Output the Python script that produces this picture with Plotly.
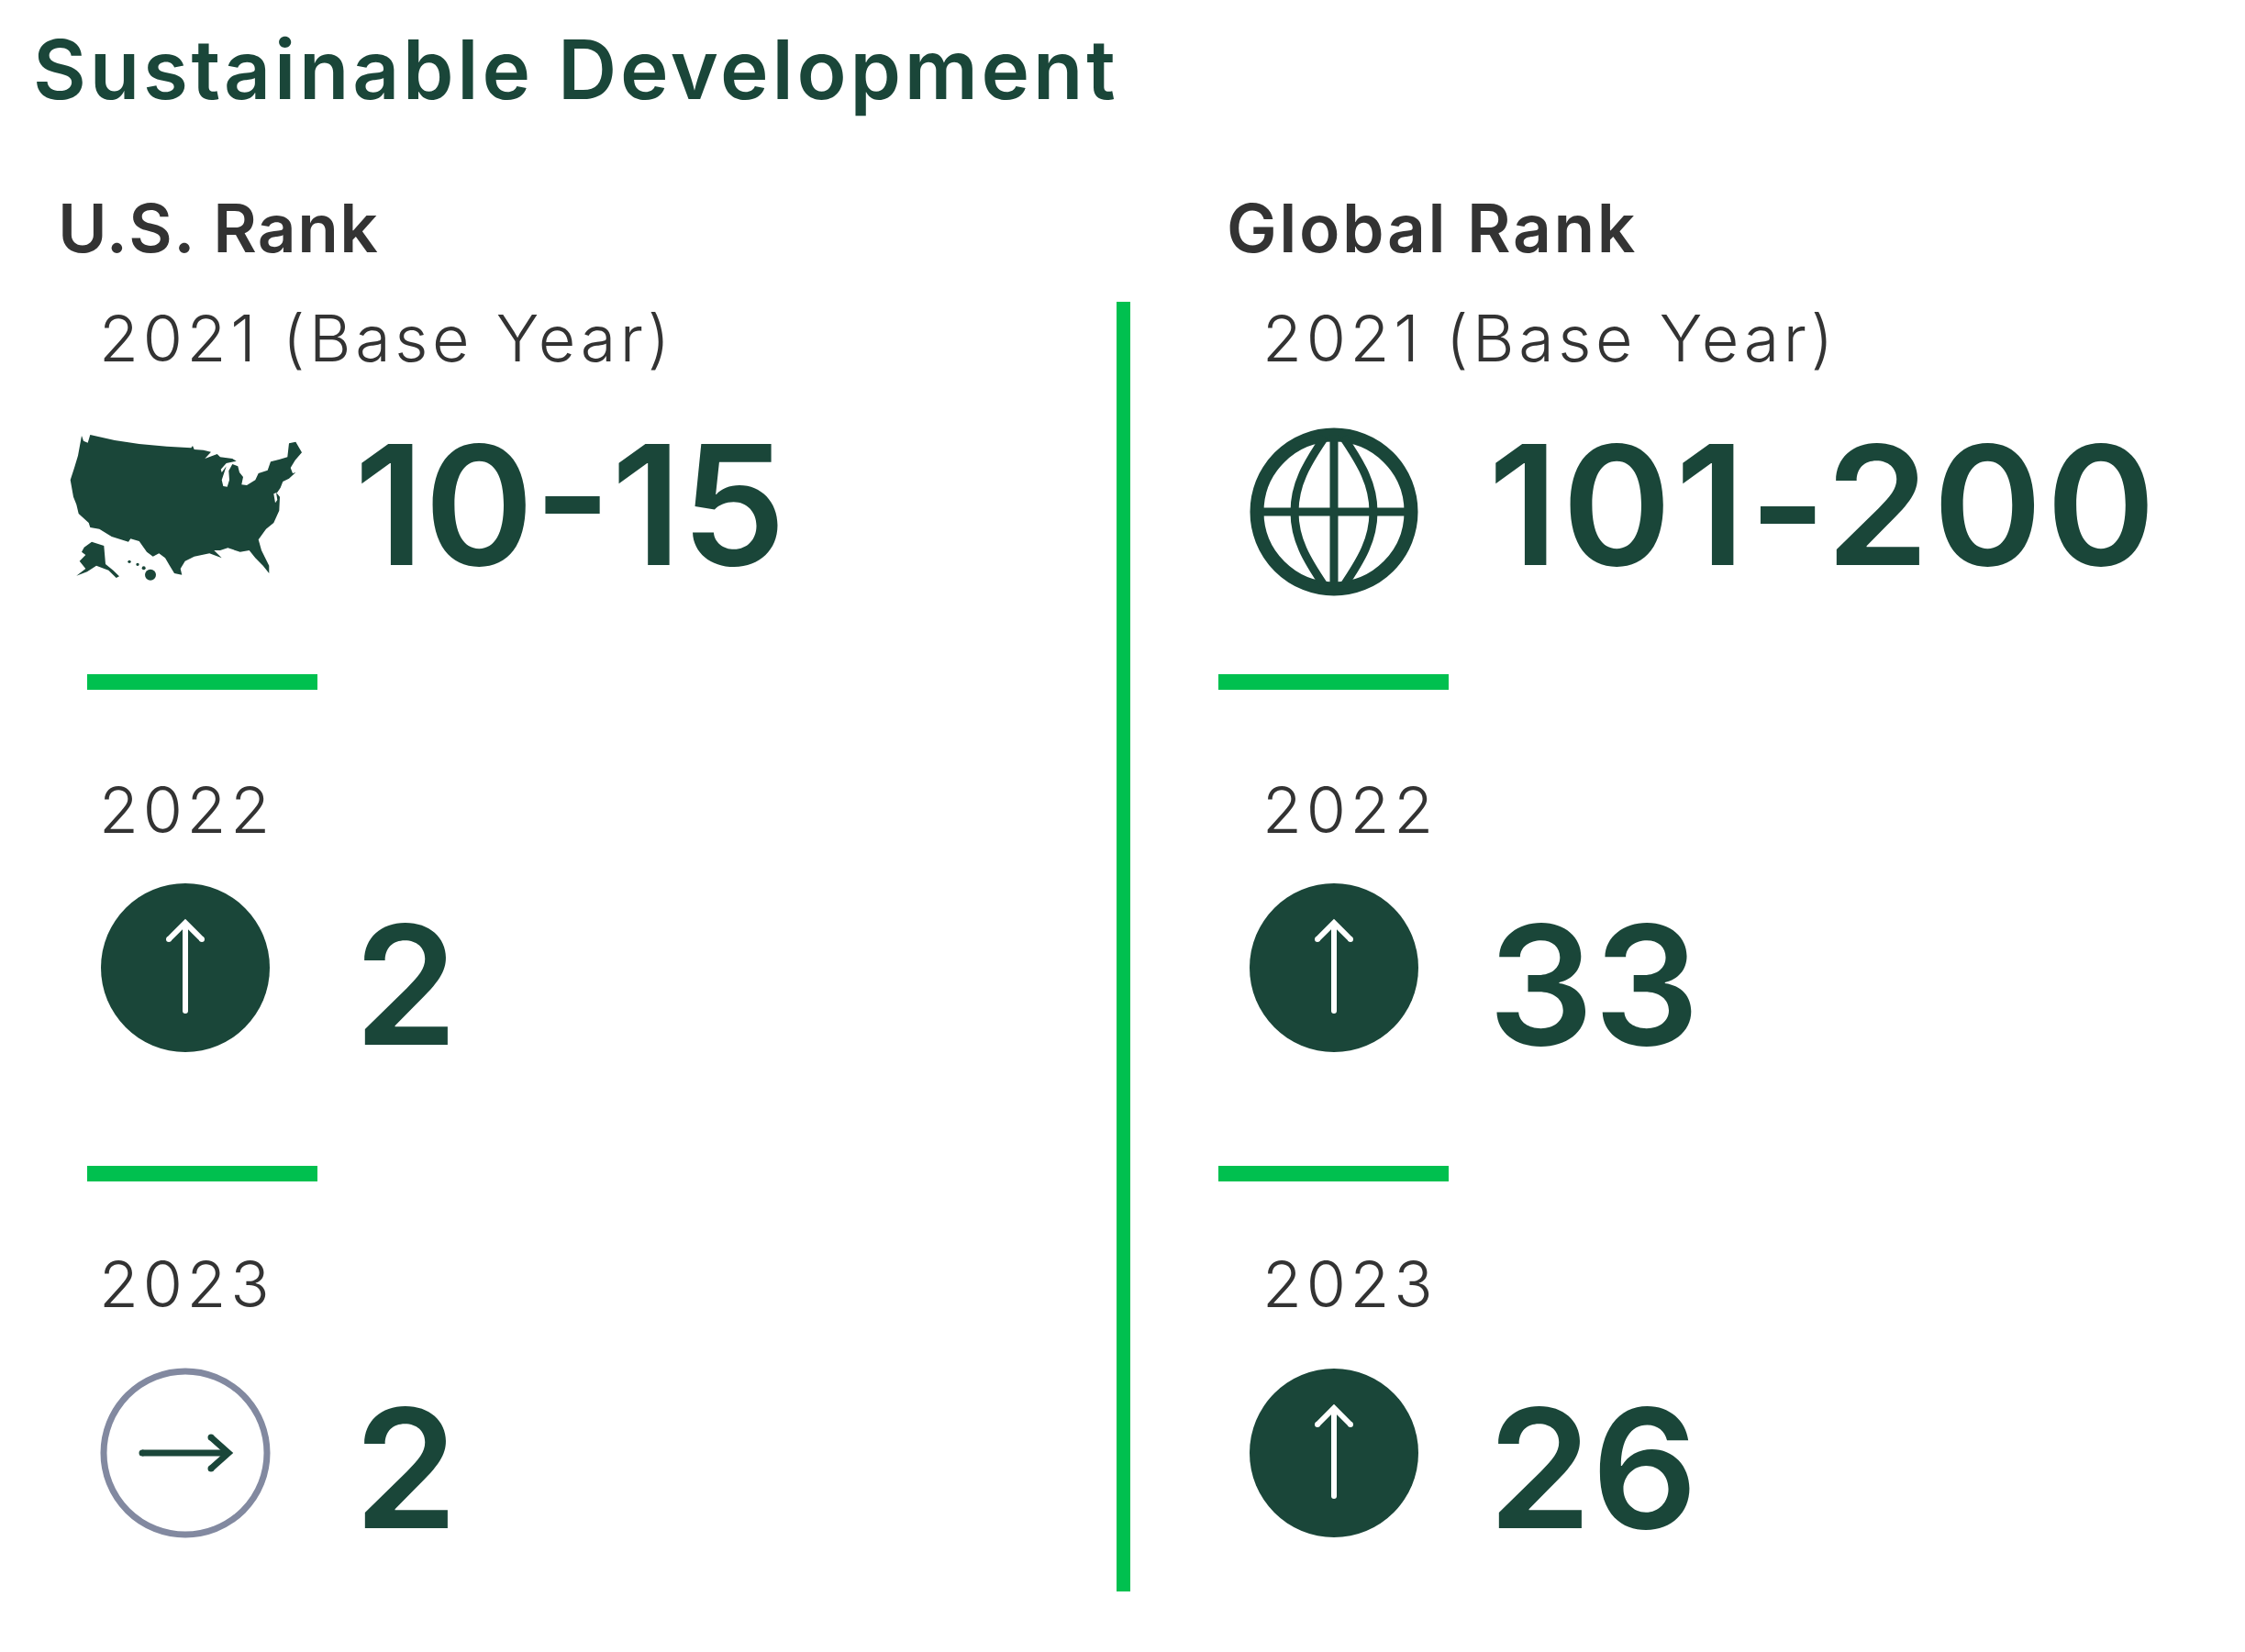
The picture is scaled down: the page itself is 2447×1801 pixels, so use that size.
import json
import plotly.graph_objects as go

W, H = 2447, 1801
DARK = "#1a4639"
GREEN = "#00c04f"
INK = "#333333"
GREY = "#8289a0"

title = "Sustainable Development"
panels = ["U.S. Rank", "Global Rank"]
years = ["2021 (Base Year)", "2022", "2023"]
us_ranks = ["10-15", "2", "2"]
global_ranks = ["101-200", "33", "26"]
us_moves = ["map", "up", "flat"]
global_moves = ["globe", "up", "up"]

FONT = "Inter"
col_head_x = [63, 1337]
col_year_x = [108, 1376]
col_rank_x = [386, 1622]
col_icon_x = [202, 1454]
row_year_y = [376, 890, 1407]
row_rank_y = [571, 1094, 1621]
row_icon_y = [558, 1055, 1584]

US_MAIN = [(72,45),(78,62),(92,68),(100,42),(180,60),(260,72),(350,80),(430,85),(435,78),(440,90),(470,92),(495,98),
 (475,120),(515,105),(525,115),(565,120),(578,128),(545,135),(527,155),(530,165),(545,145),(530,190),(535,210),(548,212),
 (555,190),(553,160),(565,138),(583,145),(588,165),(600,180),(595,205),(612,207),(640,190),(650,168),(680,158),(690,130),
 (720,122),(745,115),(750,70),(772,65),(792,100),(770,125),(755,150),(762,168),(772,165),(750,185),(730,195),(722,215),
 (712,230),(700,235),(705,265),(712,255),(708,230),(720,245),(718,290),(700,330),(675,350),(650,385),(660,420),(685,470),
 (685,495),(665,470),(640,445),(620,420),(590,425),(550,412),(525,420),(505,420),(530,445),(490,430),(440,440),(410,455),
 (395,480),(400,500),(375,495),(360,470),(345,445),(325,430),(305,440),(285,425),(260,390),(232,382),(225,392),(170,375),
 (130,350),(100,345),(95,330),(62,300),(55,270),(45,245),(35,190),(48,150),(60,110)]
US_ALASKA = [(80,410),(105,392),(145,405),(150,465),(175,485),(195,505),(185,510),(160,485),(120,470),(90,490),(55,503),
 (85,480),(65,455),(85,435),(72,425)]
US_HAWAII = [(228,457,5),(255,466,5),(275,478,6),(297,500,18)]

# extra tracking per font size, to reach the wide letterforms of the original
TRACKING = {"89px": "3.75px", "73px": "2px", "70px": "4.7px"}
TRACKING_BY_LABEL = {"101-200": "4px", "Global Rank": "2.6px", "U.S. Rank": "1.4px"}


def poly(points):
    px = [(65 + a / 3, 460 + b / 3) for a, b in points]
    return "M" + " L".join(f"{a:.1f},{b:.1f}" for a, b in px) + " Z"


def rect(x0, y0, x1, y1, color):
    return dict(type="rect", x0=x0, y0=y0, x1=x1, y1=y1, fillcolor=color, line_width=0, layer="above")


def disc(cx, cy, r, fill, line=None, lw=0):
    return dict(type="circle", x0=cx - r, x1=cx + r, y0=cy - r, y1=cy + r, fillcolor=fill,
                line=dict(color=line or fill, width=lw), layer="above")


def stroke(path, color, lw):
    return dict(type="path", path=path, line=dict(color=color, width=lw), fillcolor="rgba(0,0,0,0)", layer="above")


def up_arrow(cx, cy):
    t, b = cy - 49, cy + 47
    return [stroke(f"M{cx},{b} L{cx},{t}", "white", 6),
            stroke(f"M{cx-18},{t+18} L{cx},{t} L{cx+18},{t+18}", "white", 6),
            disc(cx, b, 3, "white"), disc(cx - 18, t + 18, 3, "white"), disc(cx + 18, t + 18, 3, "white")]


def flat_arrow(cx, cy):
    l, r = cx - 47, cx + 47
    return [stroke(f"M{l},{cy} L{r},{cy}", DARK, 7),
            stroke(f"M{r-19},{cy-17} L{r},{cy} L{r-19},{cy+17}", DARK, 7),
            disc(l, cy, 3.5, DARK), disc(r - 19, cy - 17, 3.5, DARK), disc(r - 19, cy + 17, 3.5, DARK)]


def globe(cx, cy):
    r = 91.5
    s = [disc(cx, cy, r - 7.5, "rgba(0,0,0,0)", DARK, 15),
         stroke(f"M{cx-r+8},{cy} L{cx+r-8},{cy}", DARK, 9),
         stroke(f"M{cx},{cy-r+8} L{cx},{cy+r-8}", DARK, 9)]
    for d in (-1, 1):
        s.append(stroke(f"M{cx+d*10},{cy-r+10} C{cx+d*30},{cy-52} {cx+d*43},{cy-30} {cx+d*43},{cy} "
                        f"C{cx+d*43},{cy+30} {cx+d*30},{cy+52} {cx+d*10},{cy+r-10}", DARK, 9))
    return s


def icon(kind, cx, cy):
    if kind == "up":
        return [disc(cx, cy, 92, DARK)] + up_arrow(cx, cy)
    if kind == "flat":
        return [disc(cx, cy, 89, "white", GREY, 7)] + flat_arrow(cx, cy)
    if kind == "globe":
        return globe(cx, cy)
    shapes = [dict(type="path", path=poly(US_MAIN), fillcolor=DARK, line_width=0, layer="above"),
              dict(type="path", path=poly(US_ALASKA), fillcolor=DARK, line_width=0, layer="above")]
    for a, b, r in US_HAWAII:
        shapes.append(disc(65 + a / 3, 460 + b / 3, r / 3, DARK))
    return shapes


fig = go.Figure()


def text_trace(xs, ys, labels, size, color, weight):
    fig.add_trace(go.Scatter(x=xs, y=ys, text=labels, mode="text", textposition="middle right",
                             textfont=dict(family=FONT, size=size, color=color, weight=weight),
                             hoverinfo="skip", showlegend=False, cliponaxis=False))


text_trace([36], [86], [title], 89, DARK, 600)
text_trace(col_head_x, [257, 257], panels, 73, INK, 600)
for i, x in enumerate(col_year_x):
    text_trace([x] * 3, row_year_y, years, 70, INK, 300)
    ranks = [us_ranks, global_ranks][i]
    for lab, y in zip(ranks, row_rank_y):
        text_trace([col_rank_x[i]], [y], [lab], 181, DARK, 600)

shapes = [rect(1217, 329, 1232, 1735, GREEN)]
for x0 in (95, 1328):
    for y0 in (735, 1271):
        shapes.append(rect(x0, y0, x0 + 251, y0 + 17, GREEN))
for i, moves in enumerate([us_moves, global_moves]):
    for m, y in zip(moves, row_icon_y):
        shapes += icon(m, col_icon_x[i], y)

fig.update_layout(width=W, height=H, margin=dict(l=0, r=0, t=0, b=0), paper_bgcolor="white", plot_bgcolor="white",
                  xaxis=dict(range=[0, W], visible=False, fixedrange=True),
                  yaxis=dict(range=[H, 0], visible=False, fixedrange=True),
                  shapes=shapes, showlegend=False)
js = ("document.body.style.margin='0';document.body.style.overflow='hidden';"
      "var T=" + json.dumps(TRACKING) + ",L=" + json.dumps(TRACKING_BY_LABEL) + ";"
      "document.querySelectorAll('.textpoint text').forEach(function(t){"
      "var s=L[t.textContent]||T[t.style.fontSize];if(s){t.style.letterSpacing=s;}});")
fig.write_html("out.html", post_script=js, config=dict(displayModeBar=False))
